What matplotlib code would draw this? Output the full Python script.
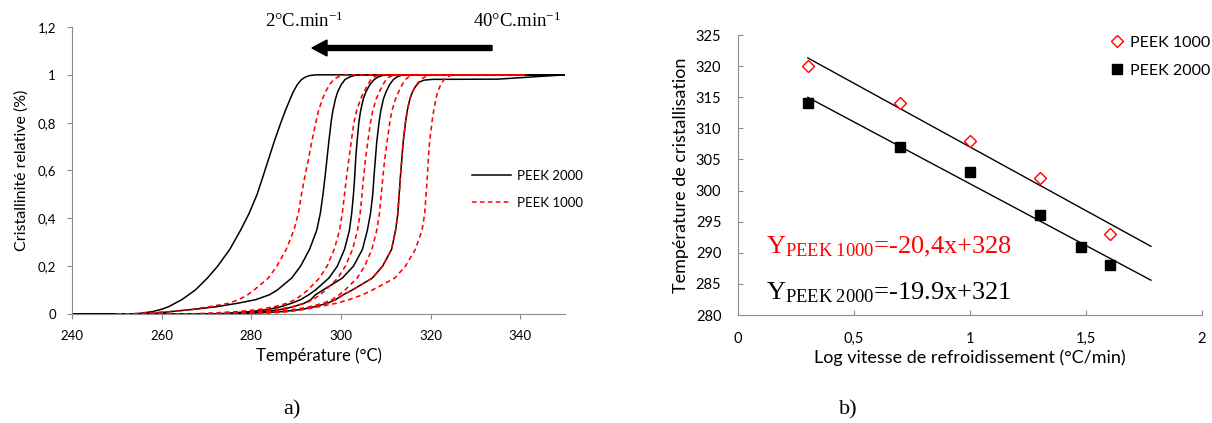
import numpy as np
import matplotlib as mpl
mpl.use('Agg')
import matplotlib.pyplot as plt
from matplotlib.lines import Line2D

plt.rcParams['font.family'] = ['Lato', 'DejaVu Sans']
plt.rcParams['mathtext.fontset'] = 'custom'
plt.rcParams['mathtext.rm'] = 'Liberation Serif'
plt.rcParams['mathtext.it'] = 'Liberation Serif:italic'

# ---- a) relative crystallinity vs temperature (values read off the curves)
levels = [0, 0.005, 0.01, 0.02, 0.03, 0.045, 0.06, 0.08, 0.1, 0.15, 0.2, 0.27, 0.35,
          0.42, 0.5, 0.58, 0.65, 0.72, 0.8, 0.85, 0.9, 0.93, 0.96, 0.98, 0.99, 0.997, 1.0]
# fastest PEEK 2000 curve levels off at ~0.98
levels_b5 = levels[:22] + [0.95, 0.97, 0.978, 0.981, 0.982]

peek2000_T = [
    [254, 256, 258, 260, 261.5, 263, 264.5, 266, 267.5, 270.2, 272.5, 275.2, 277.6,
     279.5, 281.3, 282.7, 283.9, 285.1, 286.6, 287.6, 288.7, 289.4, 290.3, 291.2, 292, 293, 294.5],
    [257, 259.5, 262, 267.5, 272, 277, 281, 284, 285.8, 289, 291, 293, 294.6,
     295.4, 296, 296.5, 296.9, 297.3, 297.8, 298.2, 298.8, 299.3, 300.1, 300.9, 301.8, 302.9, 304.5],
    [272, 276, 280, 284, 286.5, 289, 291, 292.8, 294.3, 297.3, 299.2, 300.8, 301.9,
     302.4, 302.8, 303.1, 303.3, 303.6, 304, 304.4, 305, 305.6, 306.5, 307.4, 308.2, 309.2, 310.5],
    [275, 279, 283, 287, 289.3, 291.8, 293.3, 294.3, 296, 300.3, 302.8, 304.8, 305.9,
     306.6, 307.1, 307.4, 307.7, 308, 308.5, 308.9, 309.5, 310.1, 310.9, 311.7, 312.4, 313.3, 314.5],
    [277, 282, 287, 291.5, 294, 297, 298.8, 300.5, 302.5, 307, 309.3, 311.3, 312.2,
     312.7, 313, 313.3, 313.6, 313.9, 314.4, 314.8, 315.4, 316, 316.6, 317.5, 318.6, 320.5, 335],
]
peek2000_X = [levels, levels, levels, levels, levels_b5]

peek1000_T = [
    [252, 257, 262, 267, 270.5, 275, 277.2, 279.2, 280.6, 283.8, 285.7, 287.8, 289.5,
     290.5, 291.2, 292, 292.8, 293.5, 294.4, 295, 295.9, 296.6, 297.5, 298.4, 299.2, 300.2, 301.5],
    [266, 272, 277, 282, 285, 288, 289.8, 291.3, 292.6, 295.2, 296.9, 298.5, 299.7,
     300.3, 300.8, 301.3, 301.8, 302.3, 302.9, 303.5, 304.4, 305.2, 306, 306.7, 307.3, 308.2, 309.5],
    [270, 276, 281, 286, 289, 292, 293.8, 295.3, 296.6, 299.3, 301, 302.6, 303.7,
     304.3, 304.7, 305.1, 305.5, 306, 306.6, 307.1, 307.9, 308.6, 309.4, 310.1, 310.7, 311.6, 312.8],
    [273, 279.5, 284.5, 290, 293, 296, 298, 299.6, 300.9, 303.6, 305.3, 306.9, 308,
     308.6, 309, 309.4, 309.8, 310.3, 310.9, 311.4, 312.2, 312.9, 313.7, 314.4, 315, 315.9, 317],
    [276, 281.5, 286.5, 291.5, 294, 297, 298.8, 300.5, 302.5, 307, 309.3, 311.3, 312.2,
     312.7, 313, 313.3, 313.6, 313.9, 314.4, 314.8, 315.4, 316, 316.9, 317.8, 318.6, 319.7, 321],
    [280, 285, 288.5, 292, 295, 299, 301.8, 304.8, 307, 312, 314.4, 316.6, 318.1,
     318.7, 319, 319.3, 319.5, 319.8, 320.3, 320.7, 321.2, 321.6, 322.3, 323, 323.6, 324.4, 325.5],
]

T_start_2000, T_end_2000 = 240, 350
T_start_1000, T_end_1000 = 250, 341

# ---- b) crystallisation temperature vs log cooling rate
logv_1000 = [0.301, 0.699, 1.0, 1.301, 1.602]
tc_1000 = [320, 314, 308, 302, 293]
logv_2000 = [0.301, 0.699, 1.0, 1.301, 1.477, 1.602]
tc_2000 = [314, 307, 303, 296, 291, 288]

W, H = 1212, 423
fig = plt.figure(figsize=(W/100., H/100.), dpi=100)
grey = '#8C8C8C'

# ================= left panel
ax1 = fig.add_axes([72./W, 1-314./H, 493./W, 287./H])
for Ts, Xs in zip(peek2000_T, peek2000_X):
    t = [T_start_2000] + Ts + [T_end_2000]
    x = [0] + Xs + [1.0]
    ax1.plot(t, x, color='black', lw=1.1, solid_joinstyle='round')
for Ts in peek1000_T:
    t = [T_start_1000] + Ts + [T_end_1000]
    x = [0] + levels + [1.0]
    ax1.plot(t, x, color='#FF0000', lw=1.15, dashes=(3, 2.2))

ax1.set_xlim(240, 350)
ax1.set_ylim(0, 1.2)
ax1.set_xticks(np.arange(240, 341, 20))
ax1.set_yticks(np.arange(0, 1.21, 0.2))
ax1.set_yticklabels(['0', '0,2', '0,4', '0,6', '0,8', '1', '1,2'])
ax1.set_xlabel('Température (°C)', fontsize=12, labelpad=4)
ax1.set_ylabel('Cristallinité relative (%)', fontsize=11.5, labelpad=6)
ax1.tick_params(direction='out', length=3.5, color=grey, labelsize=9.5, pad=8)
for s in ['top', 'right']:
    ax1.spines[s].set_visible(False)
for s in ['left', 'bottom']:
    ax1.spines[s].set_color(grey)

h1 = [Line2D([], [], color='black', lw=1.1),
      Line2D([], [], color='#FF0000', lw=1.1, dashes=(3, 2.2))]
ax1.legend(h1, ['PEEK 2000', 'PEEK 1000'], loc='center left',
           bbox_to_anchor=(472./W, 1-189.5/H), bbox_transform=fig.transFigure,
           frameon=False, fontsize=9.5, handlelength=2.95, handletextpad=0.45,
           labelspacing=1.15, borderpad=0, borderaxespad=0)

fig.text(265./W, 1-27./H, r'2°C.min$^{\mathrm{-1}}$', fontsize=13.5,
         family='Liberation Serif', va='baseline')
fig.text(473./W, 1-27./H, r'40°C.min$^{\mathrm{-1}}$', fontsize=13.5,
         family='Liberation Serif', va='baseline')
fig.patches.append(mpl.patches.FancyArrow(
    492./W, 1-48./H, -(492.-312.)/W, 0, width=5./H, head_width=16./H,
    head_length=15./W, length_includes_head=True, color='black',
    transform=fig.transFigure, figure=fig))

# ================= right panel
ax2 = fig.add_axes([738./W, 1-315./H, 464./W, 280./H])
ax2.plot(logv_1000, tc_1000, linestyle='none', marker='D', markersize=6.5,
         markerfacecolor='white', markeredgecolor='#FF0000', markeredgewidth=1.0,
         label='PEEK 1000', zorder=3)
ax2.plot(logv_2000, tc_2000, linestyle='none', marker='s', markersize=6.5,
         color='black', label='PEEK 2000', zorder=3)

x_fit_end = 1.78
for xs, ys in [(logv_1000, tc_1000), (logv_2000, tc_2000)]:
    p = np.polyfit(xs, ys, 1)
    xx = np.array([xs[0], x_fit_end])
    ax2.plot(xx, np.polyval(p, xx), color='black', lw=1.0, zorder=2)

ax2.set_xlim(0, 2)
ax2.set_ylim(280, 325)
ax2.set_xticks([0, 0.5, 1, 1.5, 2])
ax2.set_xticklabels(['0', '0,5', '1', '1,5', '2'])
ax2.set_yticks(np.arange(280, 326, 5))
ax2.set_xlabel('Log vitesse de refroidissement (°C/min)', fontsize=13, labelpad=3)
ax2.set_ylabel('Température de cristallisation', fontsize=13, labelpad=5)
ax2.tick_params(direction='in', length=3.5, color=grey, labelsize=10.5, pad=12)
for s in ['top', 'right']:
    ax2.spines[s].set_visible(False)
for s in ['left', 'bottom']:
    ax2.spines[s].set_color(grey)

ax2.legend(loc='center left', bbox_to_anchor=(1111./W, 1-56.5/H),
           bbox_transform=fig.transFigure, frameon=False, fontsize=11.5,
           handlelength=0.8, handletextpad=0.4, labelspacing=0.86,
           borderpad=0, borderaxespad=0)

ax2.text(0.12, 291, r'Y$_{\mathrm{PEEK\ 1000}}$=-20,4x+328', color='#FF0000',
         fontsize=19, family='Liberation Serif', va='center')
ax2.text(0.12, 283.6, r'Y$_{\mathrm{PEEK\ 2000}}$=-19.9x+321', color='black',
         fontsize=19, family='Liberation Serif', va='center')

# ================= captions
fig.text(292./W, 1-410./H, 'a)', fontsize=16, family='Liberation Serif',
         ha='center', va='center')
fig.text(848./W, 1-410./H, 'b)', fontsize=16, family='Liberation Serif',
         ha='center', va='center')

fig.savefig('out.png', dpi=100)
